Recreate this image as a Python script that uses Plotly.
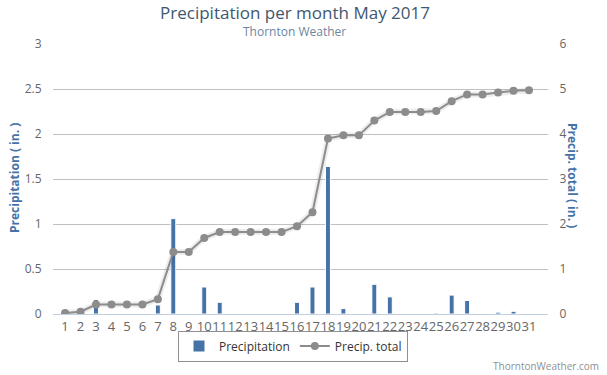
import plotly.graph_objects as go

days = [str(d) for d in range(1, 32)]
precip = [0, 0, 0.16, 0, 0, 0, 0.10, 1.06, 0, 0.30, 0.13, 0, 0, 0, 0, 0.13, 0.30, 1.64,
          0.06, 0, 0.33, 0.19, 0, 0, 0.01, 0.21, 0.15, 0, 0.02, 0.03, 0]
total = [0.02, 0.05, 0.21, 0.21, 0.21, 0.21, 0.33, 1.38, 1.38, 1.69, 1.82, 1.82, 1.82, 1.82,
         1.82, 1.95, 2.26, 3.90, 3.97, 3.97, 4.30, 4.49, 4.49, 4.49, 4.51, 4.73, 4.88, 4.88,
         4.92, 4.96, 4.97]
left_ticks = [0, 0.5, 1, 1.5, 2, 2.5, 3]
left_tick_text = ["0", "0.5", "1", "1.5", "2", "2.5", "3"]
right_ticks = [0, 1, 2, 3, 4, 5, 6]

FONT = "Open Sans"
W, H = 607, 375
L, R, T, B = 53, 59, 44, 61
PW, PH = W - L - R, H - T - B


def px(x):
    return (x - L) / PW


def py(y):
    return (H - B - y) / PH


fig = go.Figure()
fig.add_trace(go.Bar(x=days, y=precip, name="Precipitation", width=0.32,
                     marker=dict(color="#4572A7", line=dict(color="white", width=1)),
                     yaxis="y"))
fig.add_trace(go.Scatter(x=days, y=total, mode="lines", showlegend=False, hoverinfo="skip",
                         line=dict(color="rgba(0,0,0,0.07)", width=6), yaxis="y2"))
fig.add_trace(go.Scatter(x=days, y=total, name="Precip. total", mode="lines+markers",
                         line=dict(color="#8c8c8c", width=2),
                         marker=dict(color="#8c8c8c", size=8), yaxis="y2"))

fig.update_layout(
    width=W, height=H,
    margin=dict(l=L, r=R, t=T, b=B, autoexpand=False),
    paper_bgcolor="white", plot_bgcolor="white",
    font=dict(family=FONT, color="#666666", size=12),
    showlegend=True,
    title=dict(text="Precipitation per month May 2017", x=px(295), xanchor="center", xref="paper",
               y=1 - 13 / H, yanchor="middle", yref="container",
               font=dict(family=FONT, size=17, color="#3E576F")),
    xaxis=dict(type="category", range=[-0.78, 31.23], showgrid=False,
               tickmode="array", tickvals=days, ticktext=days, tickangle=0,
               automargin=False,
               showline=True, linecolor="#C0D0E0", linewidth=1,
               ticks="",
               tickfont=dict(size=13, color="#666666"), fixedrange=True),
    yaxis=dict(range=[0, 3], tickvals=left_ticks, ticktext=left_tick_text, automargin=False,
               gridcolor="#C0C0C0", gridwidth=1, zeroline=False, showline=False,
               ticks="outside", ticklen=8, tickcolor="white",
               tickfont=dict(size=12, color="#666666")),
    yaxis2=dict(range=[0, 6], tickvals=right_ticks, overlaying="y", side="right", automargin=False,
                showgrid=False, zeroline=False, showline=False,
                ticks="outside", ticklen=8, tickcolor="white",
                tickfont=dict(size=12, color="#666666")),
    legend=dict(orientation="h", x=293 / W, xanchor="center", xref="container",
                y=1 - 346 / H, yanchor="middle", yref="container",
                bordercolor="#909090", borderwidth=1, bgcolor="white",
                font=dict(size=12, color="#333333")),
    annotations=[
        dict(text="Thornton Weather", x=px(294), y=py(31), xref="paper", yref="paper",
             showarrow=False, font=dict(family=FONT, size=12, color="#6D869F"),
             xanchor="center", yanchor="middle"),
        dict(text="<b>Precipitation ( in. )</b>", x=px(14), y=py(178), xref="paper", yref="paper",
             showarrow=False, textangle=-90, font=dict(family=FONT, size=12, color="#4572A7"),
             xanchor="center", yanchor="middle"),
        dict(text="<b>Precip. total ( in. )</b>", x=px(573), y=py(175), xref="paper", yref="paper",
             showarrow=False, textangle=90, font=dict(family=FONT, size=12, color="#4572A7"),
             xanchor="center", yanchor="middle"),
        dict(text="ThorntonWeather.com", x=px(601), y=py(366), xref="paper", yref="paper",
             showarrow=False, font=dict(family=FONT, size=10, color="#909090"),
             xanchor="right", yanchor="middle"),
    ],
)

fig.write_html("out.html", config={"displayModeBar": False},
               post_script="document.body.style.margin='0';")
